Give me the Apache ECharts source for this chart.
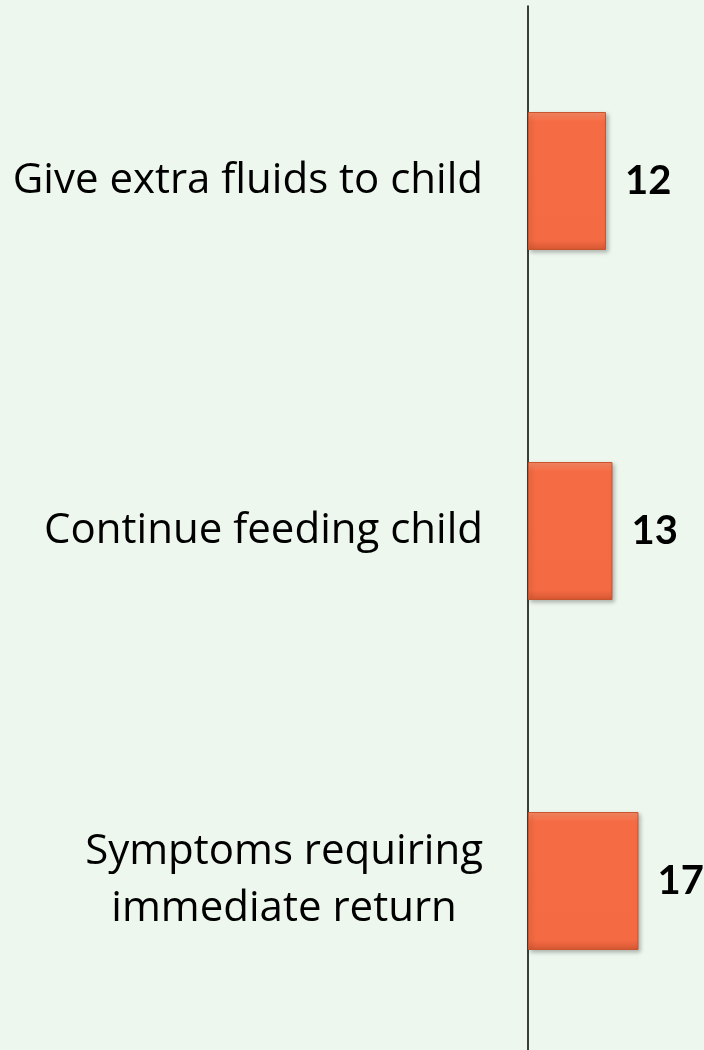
<!DOCTYPE html>
<html>
<head>
<meta charset="utf-8">
<script src="https://cdn.jsdelivr.net/npm/echarts@6/dist/echarts.min.js"></script>
<style>
	html, body { margin: 0; padding: 0; background: #EDF7EE; }
	#chart { width: 704px; height: 1050px; }
</style>
</head>
<body>
<div id="chart"></div>
<script>
// categories, top to bottom
const categories = [
	'Give extra fluids to child',
	'Continue feeding child',
	'Symptoms requiring\nimmediate return'
]
const values = [12, 13, 17]

const chart = echarts.init(document.getElementById('chart'))

const option = {
	backgroundColor: '#EDF7EE',
	animation: false,
	grid: {
		left: 528,
		width: 169,
		top: 6,
		height: 1050,
		outerBoundsMode: 'none'
	},
	xAxis: {
		type: 'value',
		min: 0,
		max: 26,
		show: false
	},
	yAxis: {
		type: 'category',
		inverse: true,
		data: categories,
		axisTick: { show: false },
		axisLine: {
			show: true,
			lineStyle: { color: '#000', width: 1.5 }
		},
		axisLabel: {
			margin: 45,
			align: 'right',
			// each line centred inside the label block
			formatter: v => v.split('\n').map(s => '{c|' + s + '}').join('\n'),
			rich: {
				c: {
					color: '#000',
					fontFamily: 'Open Sans',
					fontSize: 42,
					lineHeight: 57,
					align: 'center'
				}
			}
		}
	},
	series: [
		{
			type: 'bar',
			data: values,
			barWidth: 138,
			itemStyle: {
				color: new echarts.graphic.LinearGradient(0, 0, 0, 1, [
					{ offset: 0, color: '#FA8A66' },
					{ offset: 0.07, color: '#F56B44' },
					{ offset: 0.93, color: '#F46A43' },
					{ offset: 1, color: '#D65833' }
				]),
				borderColor: '#C9552F',
				borderWidth: 1,
				shadowColor: 'rgba(0,0,0,0.25)',
				shadowBlur: 4,
				shadowOffsetX: 2,
				shadowOffsetY: 2
			},
			label: {
				show: true,
				position: 'right',
				distance: 19,
				color: '#000',
				fontFamily: 'Lato',
				fontWeight: 'bold',
				fontSize: 40
			}
		}
	]
}

chart.setOption(option)
</script>
</body>
</html>
